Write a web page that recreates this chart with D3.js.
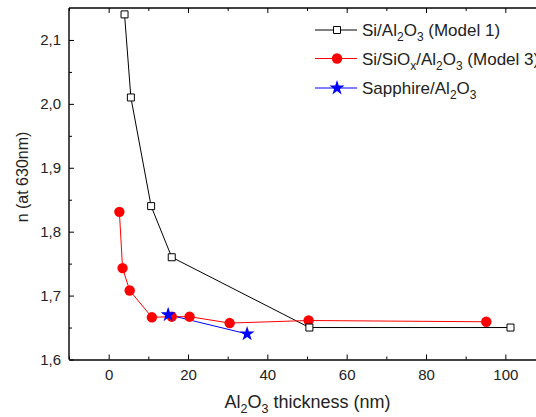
<!DOCTYPE html>
<html>
<head>
<meta charset="utf-8">
<script src="https://cdn.jsdelivr.net/npm/d3@7"></script>
<style>
  html, body { margin: 0; padding: 0; background: #fff; overflow: hidden; }
  svg { display: block; font-family: "Liberation Sans", Arial, sans-serif; }
</style>
</head>
<body>
<svg id="chart" width="536" height="417"></svg>
<script>
// Refractive index at 630 nm versus Al2O3 layer thickness
const model1X = [4.0, 5.6, 10.7, 15.9, 50.6, 101.3];
const model1Y = [2.14, 2.01, 1.84, 1.76, 1.65, 1.65];

const model3X = [2.7, 3.5, 5.3, 10.9, 15.9, 20.4, 30.5, 50.4, 95.2];
const model3Y = [1.831, 1.743, 1.708, 1.666, 1.667, 1.667, 1.657, 1.661, 1.659];

const sapphireX = [15.0, 34.9];
const sapphireY = [1.670, 1.640];

const xTicks = [0, 20, 40, 60, 80, 100];
const xMinorTicks = [-10, 10, 30, 50, 70, 90, 110];
const yTicks = [1.6, 1.7, 1.8, 1.9, 2.0, 2.1];
const yMinorTicks = [1.65, 1.75, 1.85, 1.95, 2.05];

const svg = d3.select("#chart");
const plotLeft = 69, plotRight = 545, plotTop = 8, plotBottom = 359.5;
const tickFont = "15px 'Liberation Sans', Arial, sans-serif";

const x = d3.scaleLinear().domain([-10, 110]).range([plotLeft, plotRight]);
const y = d3.scaleLinear().domain([1.6, 2.15]).range([plotBottom, plotTop]);

const fmtY = v => d3.format(".1f")(v).replace(".", ",");

// frame: left and top edges
svg.append("line").attr("x1", plotLeft).attr("x2", plotLeft).attr("y1", plotTop).attr("y2", plotBottom)
  .attr("stroke", "#000").attr("stroke-width", 1.4);
svg.append("line").attr("x1", plotLeft).attr("x2", plotRight).attr("y1", plotTop).attr("y2", plotTop)
  .attr("stroke", "#000").attr("stroke-width", 1.4);

// bottom axis, ticks inward
const xAxis = svg.append("g").attr("transform", `translate(0,${plotBottom})`)
  .call(d3.axisBottom(x).tickValues(xTicks).tickSizeInner(-5).tickSizeOuter(0).tickPadding(10));
xAxis.select(".domain").attr("stroke-width", 1.4);
xAxis.selectAll("text").style("font", tickFont).attr("fill", "#222");
svg.append("g").attr("transform", `translate(0,${plotBottom})`)
  .call(d3.axisBottom(x).tickValues(xMinorTicks).tickSizeInner(-3).tickSizeOuter(0).tickFormat(""))
  .select(".domain").remove();

// top axis ticks
svg.append("g").attr("transform", `translate(0,${plotTop})`)
  .call(d3.axisTop(x).tickValues(xTicks).tickSizeInner(-5).tickSizeOuter(0).tickFormat(""))
  .select(".domain").remove();
svg.append("g").attr("transform", `translate(0,${plotTop})`)
  .call(d3.axisTop(x).tickValues(xMinorTicks).tickSizeInner(-3).tickSizeOuter(0).tickFormat(""))
  .select(".domain").remove();

// left axis, ticks inward
const yAxis = svg.append("g").attr("transform", `translate(${plotLeft},0)`)
  .call(d3.axisLeft(y).tickValues(yTicks).tickSizeInner(-5).tickSizeOuter(0).tickPadding(8).tickFormat(fmtY));
yAxis.select(".domain").remove();
yAxis.selectAll("text").style("font", tickFont).attr("fill", "#222");
svg.append("g").attr("transform", `translate(${plotLeft},0)`)
  .call(d3.axisLeft(y).tickValues(yMinorTicks).tickSizeInner(-3).tickSizeOuter(0).tickFormat(""))
  .select(".domain").remove();

// series
const line = d3.line().x(d => x(d[0])).y(d => y(d[1]));
const m1 = model1X.map((v, i) => [v, model1Y[i]]);
const m3 = model3X.map((v, i) => [v, model3Y[i]]);
const sp = sapphireX.map((v, i) => [v, sapphireY[i]]);

svg.append("path").datum(m1).attr("d", line).attr("fill", "none").attr("stroke", "#000").attr("stroke-width", 1);
svg.append("path").datum(m3).attr("d", line).attr("fill", "none").attr("stroke", "#ff0000").attr("stroke-width", 1);
svg.append("path").datum(sp).attr("d", line).attr("fill", "none").attr("stroke", "#0000ff").attr("stroke-width", 1);

const sq = d3.symbol().type(d3.symbolSquare).size(49);
const circ = d3.symbol().type(d3.symbolCircle).size(85);
const star = d3.symbol().type(d3.symbolStar).size(70);

svg.append("g").selectAll("path").data(m3).join("path")
  .attr("d", circ).attr("transform", d => `translate(${x(d[0])},${y(d[1])})`)
  .attr("fill", "#ff0000");
svg.append("g").selectAll("path").data(m1).join("path")
  .attr("d", sq).attr("transform", d => `translate(${x(d[0])},${y(d[1])})`)
  .attr("fill", "#fff").attr("stroke", "#000").attr("stroke-width", 1);
svg.append("g").selectAll("path").data(sp).join("path")
  .attr("d", star).attr("transform", d => `translate(${x(d[0])},${y(d[1])})`)
  .attr("fill", "#0000ff");

// axis titles
const xt = svg.append("text").attr("x", 307.5).attr("y", 408)
  .attr("text-anchor", "middle").attr("font-size", 18).attr("fill", "#222");
xt.append("tspan").text("Al");
xt.append("tspan").text("2").attr("font-size", 12.5).attr("dy", 5);
xt.append("tspan").text("O").attr("dy", -5);
xt.append("tspan").text("3").attr("font-size", 12.5).attr("dy", 5);
xt.append("tspan").text(" thickness (nm)").attr("dy", -5);

svg.append("text").attr("transform", "translate(28,177) rotate(-90)")
  .attr("text-anchor", "middle").attr("font-size", 16).attr("fill", "#222")
  .text("n (at 630nm)");

// legend
const legend = svg.append("g");
const rows = [
  { color: "#000", sym: "square", y: 30, parts: [["Si/Al", 0], ["2", 1], ["O", 0], ["3", 1], [" (Model 1)", 0]] },
  { color: "#ff0000", sym: "circle", y: 58.5, parts: [["Si/SiO", 0], ["x", 1], ["/Al", 0], ["2", 1], ["O", 0], ["3", 1], [" (Model 3)", 0]] },
  { color: "#0000ff", sym: "star", y: 88, parts: [["Sapphire/Al", 0], ["2", 1], ["O", 0], ["3", 1]] }
];
rows.forEach(r => {
  legend.append("line").attr("x1", 315).attr("x2", 357).attr("y1", r.y).attr("y2", r.y)
    .attr("stroke", r.color).attr("stroke-width", 1);
  const gen = r.sym === "square" ? sq : r.sym === "circle" ? circ : star;
  const mk = legend.append("path").attr("d", gen).attr("transform", `translate(337,${r.y})`);
  if (r.sym === "square") mk.attr("fill", "#fff").attr("stroke", "#000");
  else mk.attr("fill", r.color);
  const t = legend.append("text").attr("x", 362).attr("y", r.y + 6)
    .attr("font-size", 17).attr("fill", "#222");
  let prevSub = 0;
  r.parts.forEach(([s, sub]) => {
    const ts = t.append("tspan").text(s);
    if (sub) ts.attr("font-size", 12);
    const dy = (sub - prevSub) * 5;
    if (dy) ts.attr("dy", dy);
    prevSub = sub;
  });
});
</script>
</body>
</html>
